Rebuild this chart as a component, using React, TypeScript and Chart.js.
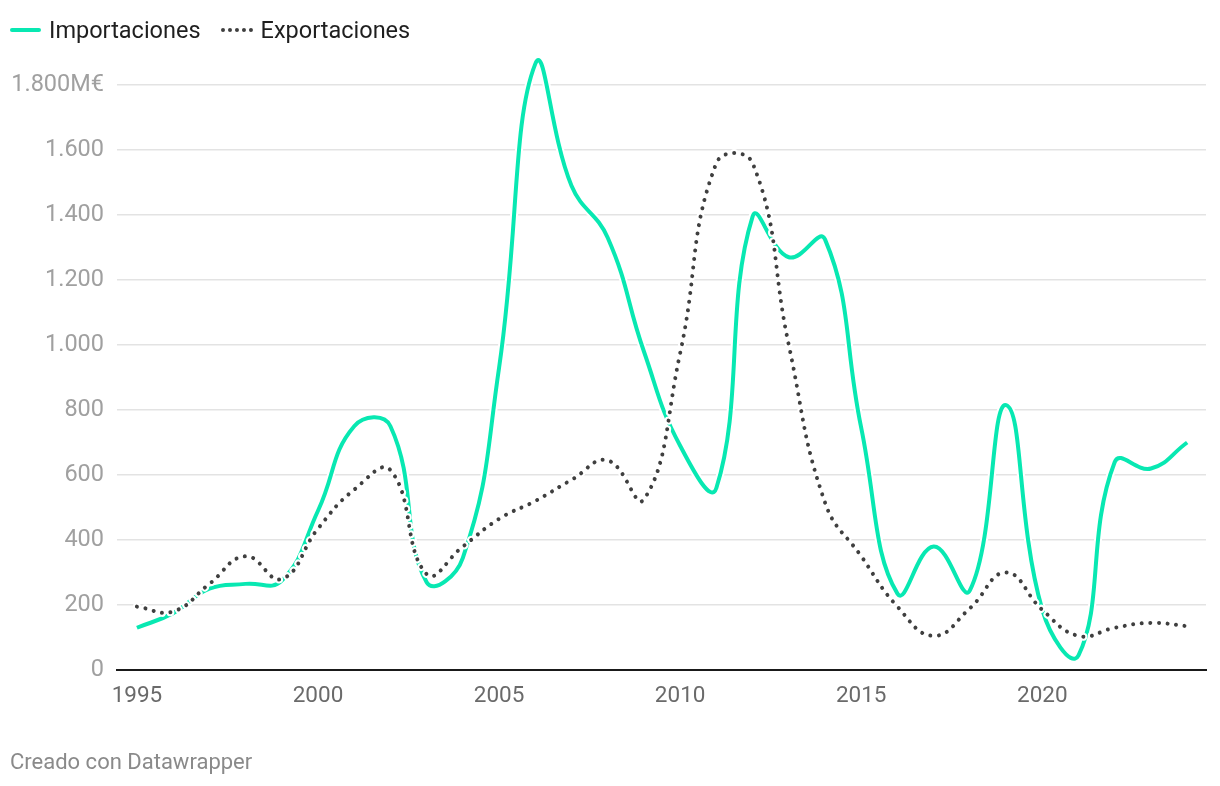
import React, { useEffect, useRef } from "react";
import { Chart, registerables } from "chart.js";

Chart.register(...registerables);

const years = [
  1995, 1996, 1997, 1998, 1999, 2000, 2001, 2002, 2003, 2004,
  2005, 2006, 2007, 2008, 2009, 2010, 2011, 2012, 2013, 2014,
  2015, 2016, 2017, 2018, 2019, 2020, 2021, 2022, 2023, 2024,
];

const importaciones = [
  130, 175, 250, 265, 275, 490, 750, 750, 270, 345,
  930, 1865, 1490, 1330, 980, 690, 560, 1395, 1270, 1325,
  745, 235, 380, 245, 815, 185, 45, 640, 620, 700,
];

const exportaciones = [
  195, 180, 265, 350, 280, 435, 555, 615, 295, 380,
  465, 520, 585, 645, 525, 975, 1560, 1560, 1000, 515,
  350, 195, 105, 190, 300, 185, 105, 130, 145, 135,
];

const xTickYears = [1995, 2000, 2005, 2010, 2015, 2020];
const yTickValues = [0, 200, 400, 600, 800, 1000, 1200, 1400, 1600, 1800];
const yTickLabels = ["0", "200", "400", "600", "800", "1.000", "1.200", "1.400", "1.600", "1.800M€"];

const seriesNames = ["Importaciones", "Exportaciones"];
const GREEN = "#08e8b2";
const DARK = "#3f3f3f";
const FONT = "Roboto, 'Noto Sans', sans-serif";
const TENSION = 0.45;

export default function App() {
  const canvasRef = useRef<HTMLCanvasElement | null>(null);

  useEffect(() => {
    const canvas = canvasRef.current;
    if (!canvas) return;
    const toXY = (arr: number[]) => years.map((y, i) => ({ x: y, y: arr[i] }));
    const chart = new Chart(canvas, {
      type: "line",
      data: {
        datasets: [
          {
            label: seriesNames[1],
            data: toXY(exportaciones),
            borderColor: DARK,
            borderWidth: 4,
            borderDash: [0.01, 8.6],
            borderCapStyle: "round",
            pointRadius: 0,
            tension: TENSION,
            clip: false,
            order: 0,
          } as any,
          {
            label: "halo-exp",
            data: toXY(exportaciones),
            borderColor: "#ffffff",
            borderWidth: 8,
            borderDash: [0.01, 8.6],
            borderCapStyle: "round",
            pointRadius: 0,
            tension: TENSION,
            clip: false,
            order: 1,
          } as any,
          {
            label: seriesNames[0],
            data: toXY(importaciones),
            borderColor: GREEN,
            borderWidth: 4,
            pointRadius: 0,
            tension: TENSION,
            clip: false,
            order: 2,
          } as any,
          {
            label: "halo-imp",
            data: toXY(importaciones),
            borderColor: "#ffffff",
            borderWidth: 8,
            pointRadius: 0,
            tension: TENSION,
            clip: false,
            order: 3,
          } as any,
        ],
      },
      options: {
        animation: false,
        responsive: false,
        events: [],
        layout: { padding: { left: 0, top: 85, right: 14, bottom: 76 } },
        plugins: {
          legend: { display: false },
          tooltip: { enabled: false },
        },
        scales: {
          x: {
            type: "linear",
            min: 1994.45,
            max: 2024.52,
            afterFit: (s: any) => {
              s.height = 40;
            },
            afterBuildTicks: (s: any) => {
              s.ticks = xTickYears.map((v) => ({ value: v }));
            },
            grid: { display: false, drawTicks: false },
            border: { display: true, color: "#1a1a1a", width: 2 },
            ticks: {
              padding: 13,
              color: "#6a6a6a",
              font: { family: FONT, size: 22.5 },
              maxRotation: 0,
              autoSkip: false,
              callback: (v: any) => String(v),
            },
          },
          y: {
            type: "linear",
            min: 0,
            max: 1800,
            afterFit: (s: any) => {
              s.width = 117;
            },
            afterBuildTicks: (s: any) => {
              s.ticks = yTickValues.map((v) => ({ value: v }));
            },
            grid: {
              drawTicks: false,
              color: (ctx: any) => (ctx.tick && ctx.tick.value === 0 ? "rgba(0,0,0,0)" : "#e3e3e3"),
              lineWidth: 1.5,
            },
            border: { display: false },
            ticks: {
              padding: 13,
              color: "#a0a0a0",
              font: { family: FONT, size: 23.5 },
              callback: (v: any) => {
                const i = yTickValues.indexOf(Number(v));
                return i >= 0 ? yTickLabels[i] : "";
              },
            },
          },
        },
      } as any,
    });
    return () => chart.destroy();
  }, []);

  return (
    <div
      style={{
        position: "absolute",
        left: 0,
        top: 0,
        width: 1220,
        height: 786,
        background: "#ffffff",
        fontFamily: FONT,
        overflow: "hidden",
      }}
    >
      <canvas
        ref={canvasRef}
        width={1220}
        height={786}
        style={{ position: "absolute", left: 0, top: 0, width: 1220, height: 786 }}
      />
      <div
        style={{
          position: "absolute",
          left: 10,
          top: 16,
          height: 28,
          display: "flex",
          alignItems: "center",
          fontSize: 23.5,
          color: "#1f1f1f",
          whiteSpace: "nowrap",
        }}
      >
        <span style={{ display: "inline-block", width: 31, height: 4, borderRadius: 2, background: GREEN, marginRight: 8 }} />
        <span style={{ marginRight: 20 }}>{seriesNames[0]}</span>
        <span
          style={{
            display: "inline-block",
            width: 32,
            height: 0,
            borderTop: `4px dotted ${DARK}`,
            marginRight: 8,
          }}
        />
        <span>{seriesNames[1]}</span>
      </div>
      <div
        style={{
          position: "absolute",
          left: 10,
          top: 749,
          fontSize: 22,
          color: "#8a8a8a",
          whiteSpace: "nowrap",
        }}
      >
        Creado con Datawrapper
      </div>
    </div>
  );
}
